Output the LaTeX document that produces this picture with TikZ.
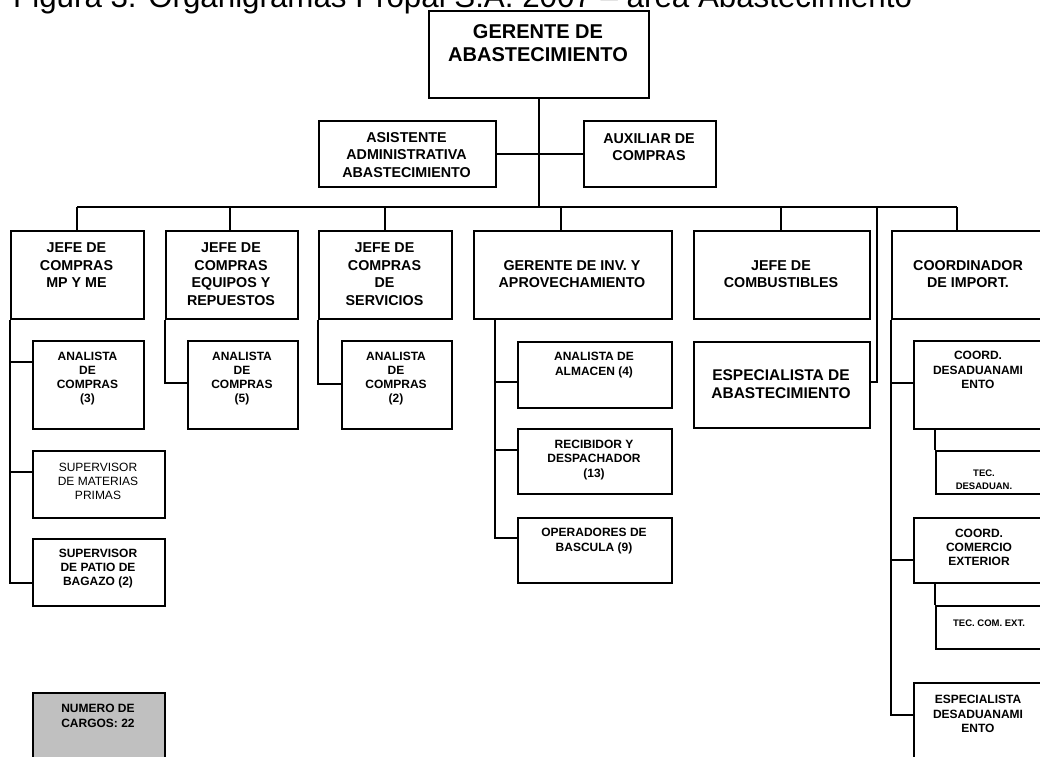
\documentclass[tikz,border=0pt]{standalone}
\usepackage{fontspec}
\setmainfont{Liberation Sans}
\usetikzlibrary{calc}

% box given by its top-left and bottom-right corners
\newcommand\orgbox[6][]{%
  \node[card,#1,anchor=north west,minimum width={#5-#3},minimum height={#6-#4}] (#2) at (#3,#4) {};}

\begin{document}
\begin{tikzpicture}[x=1pt,y=-1pt,
  card/.style={draw,line width=1.5pt,inner sep=0pt},
  wire/.style={line width=1.5pt},
  txthead/.style={align=center,inner sep=0pt,font=\bfseries\fontsize{20}{23}\selectfont},
  txtbig/.style={align=center,inner sep=0pt,font=\bfseries\fontsize{14.3}{17.5}\selectfont},
  txtlarge/.style={align=center,inner sep=0pt,font=\bfseries\fontsize{15.5}{18}\selectfont},
  txtsmall/.style={align=center,inner sep=0pt,font=\bfseries\fontsize{12}{14.3}\selectfont},
  txtplain/.style={align=center,inner sep=0pt,font=\fontsize{12}{14}\selectfont},
  txttiny/.style={align=center,inner sep=0pt,font=\bfseries\fontsize{9.5}{13}\selectfont},
  total/.style={fill={rgb,255:red,192;green,192;blue,192}}
]
\useasboundingbox (0,0) rectangle (1040,756);

% caption
\node[anchor=base west,inner sep=0pt,font=\fontsize{31.3}{37}\selectfont] (title) at (13,7)
  {Figura 3. Organigramas Propal S.A. 2007 – área Abastecimiento};

% top level
\orgbox{ger}{428}{10}{648}{97}
\orgbox{asis}{318}{120}{495}{186}
\orgbox{aux}{583}{120}{715}{186}

% second level
\orgbox{jefe1}{10}{230}{143}{318}
\orgbox{jefe2}{165}{230}{297}{318}
\orgbox{jefe3}{318}{230}{451}{318}
\orgbox{gerinv}{473}{230}{671}{318}
\orgbox{comb}{693}{230}{869}{318}
\orgbox{coord}{891}{230}{1045}{318}

% third level
\orgbox{an1}{32}{340}{143}{428}
\orgbox{supmp}{32}{450}{164}{517}
\orgbox{suppb}{32}{538}{164}{605}
\orgbox{an2}{187}{340}{297}{428}
\orgbox{an3}{341}{340}{451}{428}
\orgbox{alm}{517}{341}{671}{407}
\orgbox{rec}{517}{428}{671}{493}
\orgbox{ope}{517}{517}{671}{582}
\orgbox{esp}{693}{341}{869}{427}
\orgbox{cdes}{913}{340}{1045}{428}
\orgbox{tdes}{935}{450}{1045}{493}
\orgbox{ccom}{913}{517}{1045}{582}
\orgbox{tcom}{935}{605}{1045}{648}
\orgbox{espdes}{913}{682}{1045}{770}
\orgbox[total]{num}{32}{692}{164}{770}

% labels
\node[txthead] (ger-t) at (538,43.5) {GERENTE DE\\ABASTECIMIENTO};
\node[txtbig] (asis-t) at (406.5,155) {ASISTENTE\\ADMINISTRATIVA\\ABASTECIMIENTO};
\node[txtbig] (aux-t) at (649,147) {AUXILIAR DE\\COMPRAS};
\node[txtbig] (jefe1-t) at (76.5,265.5) {JEFE DE\\COMPRAS\\MP Y ME};
\node[txtbig] (jefe2-t) at (231,274) {JEFE DE\\COMPRAS\\EQUIPOS Y\\REPUESTOS};
\node[txtbig] (jefe3-t) at (384.5,274) {JEFE DE\\COMPRAS\\DE\\SERVICIOS};
\node[txtbig] (gerinv-t) at (572,274) {GERENTE DE INV. Y\\APROVECHAMIENTO};
\node[txtbig] (comb-t) at (781,274) {JEFE DE\\COMBUSTIBLES};
\node[txtbig] (coord-t) at (968,274) {COORDINADOR\\DE IMPORT.};
\node[txtsmall] (an1-t) at (87.5,378.5) {ANALISTA\\DE\\COMPRAS\\(3)};
\node[txtplain] (supmp-t) at (98,481) {SUPERVISOR\\DE MATERIAS\\PRIMAS};
\node[txtsmall] (suppb-t) at (98,568.5) {SUPERVISOR\\DE PATIO DE\\BAGAZO (2)};
\node[txtsmall] (an2-t) at (242,378.5) {ANALISTA\\DE\\COMPRAS\\(5)};
\node[txtsmall] (an3-t) at (396,378.5) {ANALISTA\\DE\\COMPRAS\\(2)};
\node[txtsmall] (alm-t) at (594,365) {ANALISTA DE\\ALMACEN (4)};
\node[txtsmall] (rec-t) at (594,460) {RECIBIDOR Y\\DESPACHADOR\\(13)};
\node[txtsmall] (ope-t) at (594,541) {OPERADORES DE\\BASCULA (9)};
\node[txtlarge] (esp-t) at (781,384) {ESPECIALISTA DE\\ABASTECIMIENTO};
\node[txtsmall] (cdes-t) at (978,370) {COORD.\\DESADUANAMI\\ENTO};
\node[txttiny] (tdes-t) at (984,479.5) {TEC.\\DESADUAN.};
\node[txtsmall] (ccom-t) at (979,547.5) {COORD.\\COMERCIO\\EXTERIOR};
\node[txttiny] (tcom-t) at (989,623) {TEC. COM. EXT.};
\node[txtsmall] (espdes-t) at (978,714) {ESPECIALISTA\\DESADUANAMI\\ENTO};
\node[txtsmall] (num-t) at (98,716) {NUMERO DE\\CARGOS: 22};

% main trunk and staff positions
\coordinate (busL) at (77,207);
\coordinate (busR) at (957,207);
\draw[wire] (ger.south) -- (ger.south |- busL);
\draw[wire] (asis.east) -- (aux.west);
\draw[wire] (busL) -- (busR);

% drops from the bus to the second level
\coordinate (d1) at (77,207);
\coordinate (d2) at (230,207);
\coordinate (d3) at (385,207);
\coordinate (d4) at (561,207);
\coordinate (d5) at (781,207);
\coordinate (d6) at (957,207);
\coordinate (d7) at (877,207);
\draw[wire] (d1) -- (d1 |- jefe1.north);
\draw[wire] (d2) -- (d2 |- jefe2.north);
\draw[wire] (d3) -- (d3 |- jefe3.north);
\draw[wire] (d4) -- (d4 |- gerinv.north);
\draw[wire] (d5) -- (d5 |- comb.north);
\draw[wire] (d6) -- (d6 |- coord.north);
\draw[wire] (d7) |- ([yshift=-41pt]esp.north east);

% compras MP y ME
\draw[wire] (jefe1.south west) |- ([yshift=-22pt]an1.north west);
\draw[wire] (jefe1.south west) |- ([yshift=-22pt]supmp.north west);
\draw[wire] (jefe1.south west) |- ([yshift=-45pt]suppb.north west);
% equipos y servicios
\draw[wire] (jefe2.south west) |- ([yshift=-43pt]an2.north west);
\draw[wire] (jefe3.south west) |- ([yshift=-44pt]an3.north west);
% inventarios
\coordinate (g0) at ([xshift=22pt]gerinv.south west);
\draw[wire] (g0) |- ([yshift=-41pt]alm.north west);
\draw[wire] (g0) |- ([yshift=-22pt]rec.north west);
\draw[wire] (g0) |- ([yshift=-21pt]ope.north west);
% importaciones
\draw[wire] (coord.south west) |- ([yshift=-43pt]cdes.north west);
\draw[wire] (coord.south west) |- ([yshift=-43pt]ccom.north west);
\draw[wire] (coord.south west) |- ([yshift=-33pt]espdes.north west);
\draw[wire] (cdes.south -| tdes.north west) -- (tdes.north west);
\draw[wire] (ccom.south -| tcom.north west) -- (tcom.north west);
\end{tikzpicture}
\end{document}
